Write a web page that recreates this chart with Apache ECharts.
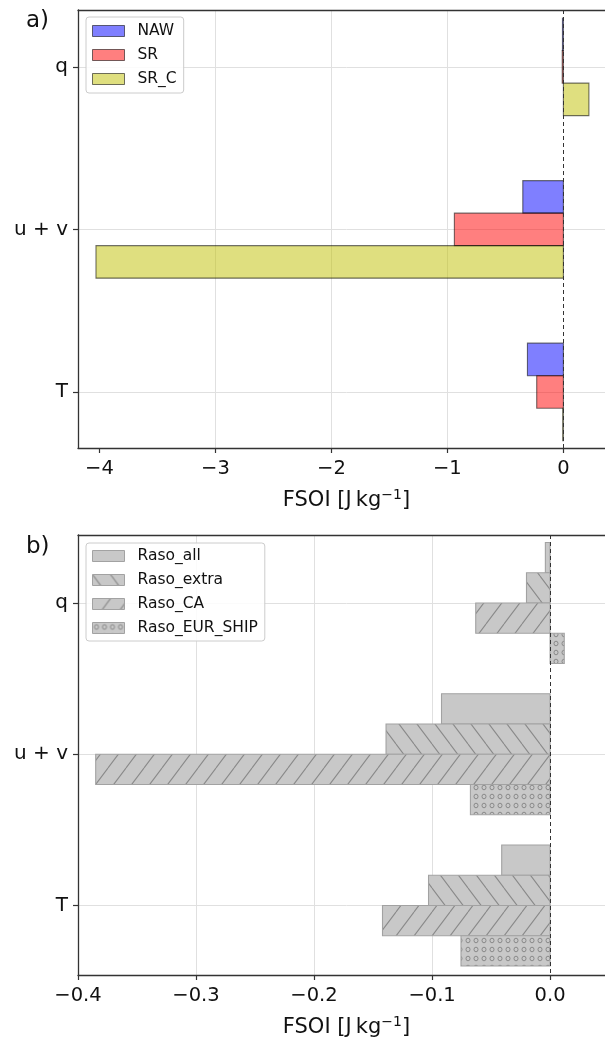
<!DOCTYPE html>
<html>
<head>
<meta charset="utf-8">
<script src="https://cdn.jsdelivr.net/npm/echarts@6/dist/echarts.min.js"></script>
<style>
  html, body { margin: 0; background: #fff; overflow: hidden; }
  #chart { width: 625px; height: 1038px; }
</style>
</head>
<body>
<div id="chart"></div>
<script>
const categories = ['q', 'u + v', 'T']

// panel a) FSOI per variable
const nawValues = [-0.008, -0.35, -0.31]
const srValues = [-0.01, -0.94, -0.23]
const srCValues = [0.22, -4.03, -0.006]

// panel b) radiosonde subsets
const rasoAll = [-0.004, -0.092, -0.041]
const rasoExtra = [-0.02, -0.139, -0.103]
const rasoCA = [-0.063, -0.385, -0.142]
const rasoEurShip = [0.012, -0.0675, -0.0755]

const xTicksA = [-4, -3, -2, -1, 0]
const xTicksB = [-0.4, -0.3, -0.2, -0.1, 0]
const yTicks = [0, 1, 2]

const FONT = 'DejaVu Sans'
const GRAY = '#c8c8c8'
const SPINE = { show: true, onZero: false, lineStyle: { color: '#333', width: 1.3 } }

function makePattern(kind) {
  const cv = document.createElement('canvas')
  const ctx = cv.getContext('2d')
  if (kind === 'o') {
    cv.width = 8; cv.height = 9
    ctx.fillStyle = GRAY
    ctx.fillRect(0, 0, 8, 9)
    ctx.strokeStyle = '#8a8a8a'
    ctx.lineWidth = 1
    ctx.beginPath()
    ctx.ellipse(4, 4.5, 2, 2.3, 0, 0, Math.PI * 2)
    ctx.stroke()
  } else {
    const w = 18, h = 24
    cv.width = w; cv.height = h
    ctx.fillStyle = GRAY
    ctx.fillRect(0, 0, w, h)
    ctx.strokeStyle = '#8a8a8a'
    ctx.lineWidth = 1.1
    ctx.beginPath()
    for (const dx of [-w, 0, w]) {
      if (kind === '/') { ctx.moveTo(dx, h); ctx.lineTo(dx + w, 0) }
      else { ctx.moveTo(dx, 0); ctx.lineTo(dx + w, h) }
    }
    ctx.stroke()
  }
  return { image: cv, repeat: 'repeat' }
}

function barSeries(name, values, offset, idx, fill, stroke, extra) {
  return Object.assign({
    name,
    type: 'custom',
    xAxisIndex: idx,
    yAxisIndex: idx,
    data: values.map((v, i) => [v, i]),
    encode: { x: 0, y: 1 },
    itemStyle: { color: fill, borderColor: stroke, borderWidth: 1 },
    renderItem: (params, api) => {
      const c = api.value(1)
      const p0 = api.coord([0, c + offset - 0.1])
      const p1 = api.coord([api.value(0), c + offset + 0.1])
      return {
        type: 'rect',
        shape: {
          x: Math.min(p0[0], p1[0]),
          y: Math.min(p0[1], p1[1]),
          width: Math.abs(p1[0] - p0[0]),
          height: Math.abs(p1[1] - p0[1])
        },
        style: { fill, stroke, lineWidth: 1.1 }
      }
    }
  }, extra || {})
}

function fmtTick(v, digits) {
  const s = digits ? Math.abs(v).toFixed(digits) : String(Math.abs(v))
  return (v < 0 ? '\u2212' : '') + s
}

const zeroLine = {
  markLine: {
    silent: true,
    symbol: 'none',
    label: { show: false },
    lineStyle: { type: [4, 3], color: '#333', width: 1 },
    data: [{ xAxis: 0 }]
  }
}

// plot area runs past the right edge of the window (no right spine in the original)
const gridBase = { left: 78, right: 10, show: false, outerBoundsMode: 'none' }
const gridColor = '#e0e0e0'

function xAxis(idx, min, max, ticks, digits) {
  return {
    type: 'value', gridIndex: idx, min, max, position: 'bottom',
    name: 'FSOI [J\u2009kg{sup|\u22121}]',
    nameLocation: 'middle',
    nameGap: 40,
    nameMoveOverlap: false,
    nameTextStyle: {
      fontFamily: FONT, fontSize: 21, color: '#111',
      rich: { sup: { fontFamily: FONT, fontSize: 14, color: '#111', padding: [0, 0, 12, 0] } }
    },
    axisLine: SPINE,
    axisTick: { show: true, length: 5, customValues: ticks, lineStyle: { color: '#333', width: 1.2 } },
    axisLabel: { customValues: ticks, margin: 11, fontFamily: FONT, fontSize: 19.5, color: '#111', formatter: v => fmtTick(v, digits) },
    splitLine: { show: true, showMinLine: false, showMaxLine: false, lineStyle: { color: gridColor, width: 1 } }
  }
}

// top spine only
function topSpine(idx, min, max) {
  return {
    type: 'value', gridIndex: idx, min, max, position: 'top',
    axisLine: SPINE, axisTick: { show: false }, axisLabel: { show: false }, splitLine: { show: false }
  }
}

function yAxis(idx, min, max) {
  return {
    type: 'value', gridIndex: idx, min, max, inverse: true, position: 'left',
    axisLine: SPINE,
    axisTick: { show: true, length: 5, customValues: yTicks, lineStyle: { color: '#333', width: 1.2 } },
    axisLabel: { customValues: yTicks, margin: 10, fontFamily: FONT, fontSize: 20, color: '#111', formatter: v => categories[v] },
    splitLine: { show: true, lineStyle: { color: gridColor, width: 1 } }
  }
}

function legend(top, padding, items) {
  return {
    left: 86, top, orient: 'vertical',
    padding,
    itemWidth: 32, itemHeight: 11, itemGap: 8,
    backgroundColor: 'rgba(255,255,255,0.85)',
    borderColor: '#cccccc', borderWidth: 1, borderRadius: 3,
    selectedMode: false,
    textStyle: { fontFamily: FONT, fontSize: 15.5, color: '#111', lineHeight: 16, padding: [0, 0, 0, 8] },
    data: items.map(it => ({ name: it.name, icon: 'rect', itemStyle: { color: it.fill, borderColor: it.stroke, borderWidth: 1 } }))
  }
}

const topStroke = 'rgba(0,0,0,0.55)'
const topItems = [
  { name: 'NAW', values: nawValues, fill: 'rgba(0,0,255,0.5)', stroke: topStroke },
  { name: 'SR', values: srValues, fill: 'rgba(255,0,0,0.5)', stroke: topStroke },
  { name: 'SR_C', values: srCValues, fill: 'rgba(191,191,0,0.5)', stroke: topStroke }
]
const botStroke = '#a2a2a2'
const botItems = [
  { name: 'Raso_all', values: rasoAll, fill: GRAY, stroke: botStroke },
  { name: 'Raso_extra', values: rasoExtra, fill: makePattern('\\'), stroke: botStroke },
  { name: 'Raso_CA', values: rasoCA, fill: makePattern('/'), stroke: botStroke },
  { name: 'Raso_EUR_SHIP', values: rasoEurShip, fill: makePattern('o'), stroke: botStroke }
]
const topOffsets = [-0.2, 0, 0.2]
const botOffsets = [-0.3, -0.1, 0.1, 0.3]

const series = [
  ...topItems.map((it, k) => barSeries(it.name, it.values, topOffsets[k], 0, it.fill, it.stroke, k === 2 ? zeroLine : null)),
  ...botItems.map((it, k) => barSeries(it.name, it.values, botOffsets[k], 1, it.fill, it.stroke, k === 3 ? zeroLine : null))
]

const chart = echarts.init(document.getElementById('chart'), null, { renderer: 'canvas' })
chart.setOption({
  animation: false,
  backgroundColor: '#fff',
  textStyle: { fontFamily: FONT },
  grid: [
    Object.assign({ top: 10, height: 438 }, gridBase),
    Object.assign({ top: 535, height: 440 }, gridBase)
  ],
  xAxis: [
    xAxis(0, -4.185, 0.445, xTicksA, 0),
    xAxis(1, -0.4, 0.055, xTicksB, 1),
    topSpine(0, -4.185, 0.445),
    topSpine(1, -0.4, 0.055)
  ],
  yAxis: [
    yAxis(0, -0.35, 2.345),
    yAxis(1, -0.45, 2.46)
  ],
  legend: [
    legend(17, [6, 7, 6, 6], topItems),
    legend(543, [5, 7, 5, 6], botItems)
  ],
  graphic: [
    { type: 'text', left: 26, top: 10, style: { text: 'a)', fontFamily: FONT, fontSize: 23, fill: '#111' } },
    { type: 'text', left: 26, top: 536, style: { text: 'b)', fontFamily: FONT, fontSize: 23, fill: '#111' } }
  ],
  series
})
</script>
</body>
</html>
